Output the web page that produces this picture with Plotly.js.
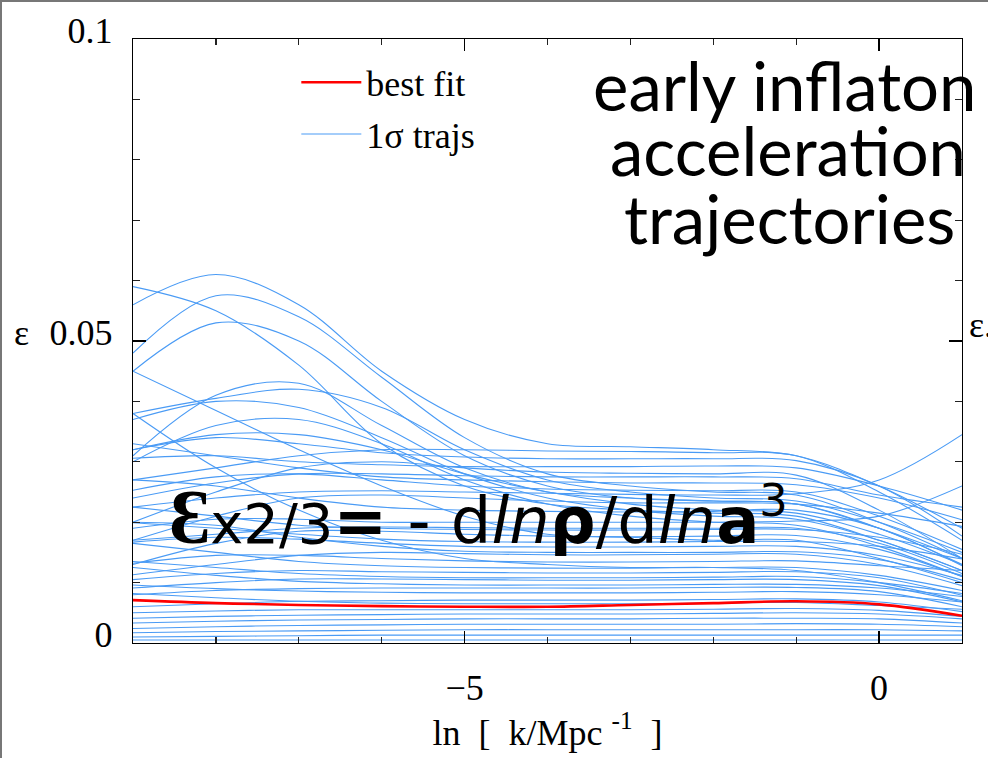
<!DOCTYPE html>
<html>
<head>
<meta charset="utf-8">
<script src="https://cdn.plot.ly/plotly-3.0.1.min.js"></script>
<style>
  html, body { margin: 0; padding: 0; background: #fff; }
  #wrap { position: relative; width: 988px; height: 758px; }
  #chart { width: 988px; height: 758px; }
  #frame { position: absolute; left: 0; top: 0; width: 988px; height: 758px;
           border-left: 2px solid #777; border-top: 2px solid #777; box-sizing: border-box; pointer-events: none; }
</style>
</head>
<body>
<div id="wrap"><div id="chart"></div><div id="frame"></div></div>
<script>
// ln k grid (x values)
const lnk = [-9, -8, -7, -6, -5, -4, -3, -2, -1, 0, 1];

// best-fit trajectory (epsilon)
const bestFit = [0.0071, 0.0066, 0.0063, 0.0061, 0.0060, 0.0060, 0.0063, 0.0066, 0.0069, 0.0064, 0.0045];

// 1-sigma trajectories (epsilon)
const traj01 = [0.056, 0.061, 0.056, 0.045, 0.037, 0.033, 0.0325, 0.032, 0.031, 0.026, 0.019];
const traj02 = [0.059, 0.055, 0.046, 0.033, 0.026, 0.023, 0.022, 0.0215, 0.021, 0.017, 0.012];
const traj03 = [0.048, 0.0575, 0.054, 0.044, 0.034, 0.028, 0.026, 0.025, 0.0245, 0.020, 0.014];
const traj04 = [0.045, 0.053, 0.050, 0.040, 0.031, 0.026, 0.024, 0.0235, 0.023, 0.019, 0.013];
const traj05 = [0.045, 0.0385, 0.032, 0.026, 0.021, 0.018, 0.0175, 0.017, 0.017, 0.014, 0.010];
const traj06 = [0.031, 0.041, 0.043, 0.036, 0.029, 0.025, 0.024, 0.0235, 0.023, 0.019, 0.014];
const traj07 = [0.038, 0.0405, 0.042, 0.039, 0.032, 0.027, 0.025, 0.024, 0.0235, 0.020, 0.015];
const traj08 = [0.037, 0.040, 0.039, 0.034, 0.028, 0.024, 0.022, 0.021, 0.0205, 0.017, 0.012];
const traj09 = [0.038, 0.029, 0.022, 0.017, 0.014, 0.013, 0.0125, 0.0125, 0.012, 0.010, 0.007];
const traj10 = [0.030, 0.036, 0.037, 0.033, 0.027, 0.023, 0.021, 0.020, 0.0195, 0.016, 0.011];
const traj11 = [0.032, 0.0345, 0.0345, 0.032, 0.028, 0.025, 0.023, 0.022, 0.0215, 0.018, 0.013];
const traj12 = [0.027, 0.029, 0.031, 0.032, 0.032, 0.0318, 0.0317, 0.0315, 0.031, 0.025, 0.017];
const traj13 = [0.0306, 0.031, 0.030, 0.0295, 0.0292, 0.0292, 0.0292, 0.0293, 0.029, 0.026, 0.022];
const traj14 = [0.020, 0.025, 0.029, 0.030, 0.029, 0.0283, 0.0281, 0.028, 0.0278, 0.022, 0.014];
const traj15 = [0.033, 0.031, 0.029, 0.0275, 0.027, 0.0267, 0.0265, 0.0265, 0.0262, 0.024, 0.0204];
const traj16 = [0.0253, 0.0275, 0.028, 0.027, 0.026, 0.0255, 0.0253, 0.0252, 0.025, 0.021, 0.0155];
const traj17 = [0.0225, 0.024, 0.025, 0.0252, 0.025, 0.0248, 0.0246, 0.0245, 0.0247, 0.027, 0.0345];
const traj18 = [0.017, 0.021, 0.024, 0.0245, 0.024, 0.0235, 0.0232, 0.0232, 0.023, 0.0215, 0.0193];
const traj19 = [0.027, 0.026, 0.024, 0.0225, 0.022, 0.0218, 0.0217, 0.0218, 0.022, 0.019, 0.0128];
const traj20 = [0.019, 0.0205, 0.0205, 0.020, 0.020, 0.020, 0.020, 0.020, 0.0202, 0.021, 0.026];
const traj21 = [0.0225, 0.021, 0.0195, 0.019, 0.0188, 0.0187, 0.0187, 0.0188, 0.0188, 0.0175, 0.0147];
const traj22 = [0.013, 0.0165, 0.0185, 0.0185, 0.018, 0.0177, 0.0176, 0.0177, 0.0178, 0.0155, 0.011];
const traj23 = [0.0199, 0.019, 0.018, 0.0172, 0.0168, 0.0167, 0.0167, 0.0168, 0.0168, 0.016, 0.0139];
const traj24 = [0.0167, 0.0175, 0.0172, 0.0165, 0.016, 0.0159, 0.0159, 0.016, 0.016, 0.0145, 0.0112];
const traj25 = [0.0113, 0.013, 0.0145, 0.015, 0.0148, 0.0146, 0.0146, 0.0147, 0.0147, 0.013, 0.0095];
const traj26 = [0.0132, 0.0145, 0.0145, 0.014, 0.0136, 0.0134, 0.0134, 0.0135, 0.0136, 0.0128, 0.012];
const traj27 = [0.0165, 0.015, 0.0135, 0.0128, 0.0125, 0.0124, 0.0124, 0.0125, 0.0125, 0.0112, 0.0087];
const traj28 = [0.0105, 0.0115, 0.012, 0.0118, 0.0117, 0.0116, 0.0116, 0.0117, 0.0118, 0.0108, 0.0079];
const traj29 = [0.0091, 0.010, 0.0106, 0.0106, 0.0105, 0.0104, 0.0104, 0.0105, 0.0105, 0.0095, 0.0068];
const traj30 = [0.0125, 0.0112, 0.0102, 0.0098, 0.0096, 0.0096, 0.0096, 0.0097, 0.0097, 0.0091, 0.0077];
const traj31 = [0.008, 0.0087, 0.009, 0.0091, 0.0091, 0.0091, 0.0091, 0.0092, 0.0092, 0.0085, 0.006];
const traj32 = [0.0096, 0.009, 0.0086, 0.0084, 0.0083, 0.0083, 0.0083, 0.0084, 0.0085, 0.008, 0.0068];
const traj33 = [0.006, 0.0065, 0.0069, 0.007, 0.0071, 0.0071, 0.0071, 0.0072, 0.0073, 0.0068, 0.0052];
const traj34 = [0.005, 0.0053, 0.0055, 0.0055, 0.0055, 0.0055, 0.0055, 0.0056, 0.0057, 0.0054, 0.0044];
const traj35 = [0.0041, 0.0044, 0.0046, 0.0047, 0.0048, 0.0048, 0.0048, 0.0049, 0.005, 0.0048, 0.004];
const traj36 = [0.0033, 0.0036, 0.0038, 0.0039, 0.004, 0.004, 0.004, 0.0041, 0.0041, 0.004, 0.0033];
const traj37 = [0.0024, 0.0027, 0.0029, 0.003, 0.0031, 0.0031, 0.0031, 0.0031, 0.0032, 0.0031, 0.0027];
const traj38 = [0.0017, 0.0019, 0.002, 0.0021, 0.0022, 0.0022, 0.0022, 0.0022, 0.0022, 0.0022, 0.002];
const traj39 = [0.001, 0.0011, 0.0012, 0.0013, 0.0013, 0.0013, 0.0013, 0.0013, 0.0013, 0.0013, 0.0013];
const traj40 = [0.0005, 0.0005, 0.0005, 0.0005, 0.0005, 0.0005, 0.0005, 0.0005, 0.0005, 0.0005, 0.0005];
const traj41 = [0.024, 0.0265, 0.028, 0.028, 0.0277, 0.0275, 0.0275, 0.0275, 0.0272, 0.0245, 0.0225];
const traj42 = [0.017, 0.018, 0.019, 0.0192, 0.0191, 0.019, 0.019, 0.019, 0.019, 0.0165, 0.0115];
const traj43 = [0.0135, 0.0125, 0.0115, 0.011, 0.0108, 0.0108, 0.0108, 0.0109, 0.011, 0.010, 0.0082];
const traj44 = [0.0082, 0.0075, 0.0069, 0.0066, 0.0065, 0.0065, 0.0065, 0.0066, 0.0067, 0.0062, 0.0056];
const traj45 = [0.020, 0.0195, 0.0175, 0.016, 0.0152, 0.015, 0.015, 0.015, 0.0151, 0.0138, 0.0104];
const traj46 = [0.032, 0.034, 0.033, 0.0315, 0.0308, 0.0305, 0.0305, 0.0305, 0.0302, 0.026, 0.0177];

const blueTrajs = [traj01, traj02, traj03, traj04, traj05, traj06, traj07, traj08, traj09, traj10,
  traj11, traj12, traj13, traj14, traj15, traj16, traj17, traj18, traj19, traj20,
  traj21, traj22, traj23, traj24, traj25, traj26, traj27, traj28, traj29, traj30,
  traj31, traj32, traj33, traj34, traj35, traj36, traj37, traj38, traj39, traj40,
  traj41, traj42, traj43, traj44, traj45, traj46];

const xTickVals = [-5, 0];
const xTickText = ['\u22125', '0'];
const yTickVals = [0, 0.05, 0.1];
const yTickText = ['0', '0.05', '0.1'];
const titleLines = ['early inflaton', 'acceleration', 'trajectories'];

const BLUE = '#4a9bf5';
const RED = '#ff0000';
const SERIF = 'Liberation Serif, Times New Roman, serif';
const SANS_TITLE = 'Lato, Open Sans, sans-serif';

const traces = blueTrajs.map((ys, i) => ({
  x: lnk, y: ys, type: 'scatter', mode: 'lines',
  line: {color: BLUE, width: 1.1, shape: 'spline', smoothing: 1},
  name: '1\u03c3 trajs', legendgroup: 'traj', legendrank: 2,
  showlegend: i === 0, hoverinfo: 'skip'
}));
traces.push({
  x: lnk, y: bestFit, type: 'scatter', mode: 'lines',
  line: {color: RED, width: 2.6, shape: 'spline', smoothing: 1},
  name: 'best fit', legendgroup: 'best', legendrank: 1, showlegend: true
});

const titleY = [0.9934, 0.8858, 0.7732];
const titleX = [0.786, 0.790, 0.792];
const titleAnns = titleLines.map((t, i) => ({
  xref: 'paper', yref: 'paper', x: titleX[i], y: titleY[i], xanchor: 'center', yanchor: 'top',
  text: t, showarrow: false, font: {family: SANS_TITLE, size: 67, color: '#000'}
}));

const layout = {
  width: 988, height: 758,
  margin: {l: 133, r: 26, t: 39, b: 115, pad: 0},
  paper_bgcolor: '#fff', plot_bgcolor: '#fff',
  font: {family: SERIF, color: '#000', size: 36},
  showlegend: true,
  legend: {
    x: 0.197, y: 0.978, xanchor: 'left', yanchor: 'top',
    bgcolor: 'rgba(0,0,0,0)', borderwidth: 0,
    font: {family: SERIF, size: 36, color: '#000'},
    traceorder: 'grouped', tracegroupgap: 2, itemwidth: 60
  },
  xaxis: {
    range: [-9, 1], showgrid: false, zeroline: false,
    showline: true, linecolor: '#000', linewidth: 1.3, mirror: 'ticks',
    ticks: 'inside', ticklen: 12, tickwidth: 1.3, tickcolor: '#000',
    tickmode: 'array', tickvals: xTickVals, ticktext: xTickText,
    ticklabelstandoff: 12,
    tickfont: {family: SERIF, size: 36, color: '#000'},
    minor: {dtick: 1, tick0: 0, ticks: 'inside', ticklen: 6, tickwidth: 1.2, tickcolor: '#222', showgrid: false},
    title: {text: 'ln\u00a0\u00a0[\u00a0\u00a0k/Mpc\u00a0<sup>-1</sup>\u00a0\u00a0]', font: {family: SERIF, size: 36, color: '#000'}, standoff: 10}
  },
  yaxis: {
    range: [0, 0.1], showgrid: false, zeroline: false,
    showline: true, linecolor: '#000', linewidth: 1.3, mirror: 'ticks',
    ticks: 'inside', ticklen: 13, tickwidth: 1.3, tickcolor: '#000',
    tickmode: 'array', tickvals: yTickVals, ticktext: yTickText,
    ticklabelstandoff: 12, ticklabelshift: -9,
    tickfont: {family: SERIF, size: 36, color: '#000'},
    minor: {dtick: 0.01, tick0: 0, ticks: 'inside', ticklen: 7, tickwidth: 1.2, tickcolor: '#222', showgrid: false}
  },
  annotations: [
    {xref: 'paper', yref: 'paper', x: -0.135, y: 0.513, xanchor: 'center', yanchor: 'middle',
     text: '\u03b5', showarrow: false, font: {family: SERIF, size: 36, color: '#000'}},
    {xref: 'paper', yref: 'paper', x: 1.006, y: 0.526, xanchor: 'left', yanchor: 'middle',
     text: '\u03b5.', showarrow: false, font: {family: SERIF, size: 36, color: '#000'}},
    ...titleAnns,
    {xref: 'paper', yref: 'paper', x: 0.041, y: 0.21, xanchor: 'left', yanchor: 'middle',
     text: '<span style="font-family:Liberation Serif;font-size:78px"><b>\u0190</b></span><span style="font-size:56px">x2/3</span><b>=</b> - d<i>ln</i><b>\u03c1</b>/d<i>ln</i><b>a</b><sup>3</sup>',
     showarrow: false, font: {family: 'DejaVu Sans, Liberation Sans, sans-serif', size: 64, color: '#000'}}
  ]
};

Plotly.newPlot('chart', traces, layout, {staticPlot: true, displayModeBar: false});
</script>
</body>
</html>
